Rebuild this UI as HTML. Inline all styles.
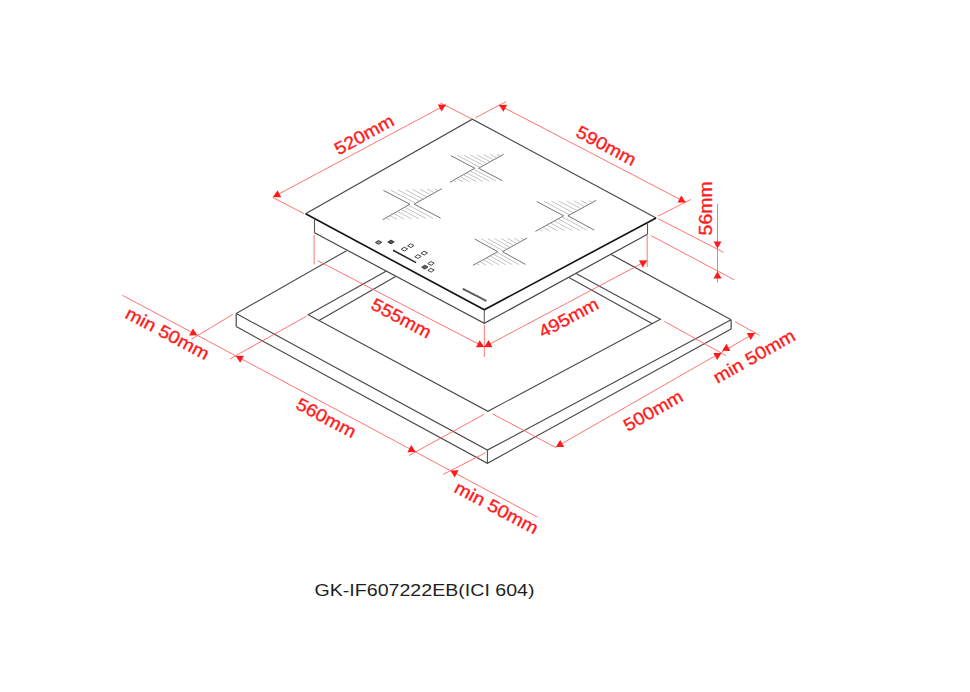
<!DOCTYPE html>
<html><head><meta charset="utf-8"><style>
html,body{margin:0;padding:0;background:#fff;width:970px;height:692px;overflow:hidden}
svg{display:block}
text{font-family:"Liberation Sans",sans-serif}
</style></head><body>
<svg width="970" height="692" viewBox="0 0 970 692">
<rect width="970" height="692" fill="#fff"/>
<path d="M236.2 313.5 L487.4 450.1 L731.1 319.8" stroke="#474747" stroke-width="1.1" fill="none" stroke-linejoin="miter"/>
<path d="M236.2 326.6 L487.4 463.3 L731.1 329" stroke="#474747" stroke-width="1.1" fill="none" stroke-linejoin="miter"/>
<line x1="236.2" y1="313.5" x2="236.2" y2="326.6" stroke="#474747" stroke-width="1.2"/>
<line x1="487.4" y1="450.1" x2="487.4" y2="463.3" stroke="#474747" stroke-width="1.0"/>
<line x1="731.1" y1="319.8" x2="731.1" y2="329" stroke="#474747" stroke-width="1.2"/>
<line x1="236.2" y1="313.5" x2="346.5" y2="250.7" stroke="#474747" stroke-width="1.1"/>
<line x1="731.1" y1="319.8" x2="611.1" y2="254.4" stroke="#474747" stroke-width="1.1"/>
<path d="M386 271.3 L308.2 314.7 L487.9 411.3 L660.4 319.2 L576.1 273.4" stroke="#474747" stroke-width="1.1" fill="none" stroke-linejoin="miter"/>
<line x1="319" y1="320.5" x2="395.6" y2="276.4" stroke="#474747" stroke-width="1.1"/>
<line x1="652.4" y1="323.8" x2="568.9" y2="277.4" stroke="#474747" stroke-width="1.1"/>
<path d="M305.6 213.8 L472.3 119.2 L656.1 217.9 L647.5 234.2 L484.3 323.4 L314.5 232.8 Z" fill="#fff"/>
<path d="M305.6 213.8 L472.3 119.2 L656.1 217.9" stroke="#474747" stroke-width="1.15" fill="none" stroke-linejoin="miter"/>
<path d="M305.6 213.8 L484.3 309.8 L656.1 217.9" stroke="#151515" stroke-width="1.65" fill="none" stroke-linejoin="miter"/>
<path d="M314.5 232.8 L484.3 323.4 L647.5 234.2" stroke="#474747" stroke-width="1.2" fill="none" stroke-linejoin="miter"/>
<line x1="314.5" y1="218.6" x2="314.5" y2="232.8" stroke="#555" stroke-width="1.1"/>
<line x1="484.3" y1="309.8" x2="484.3" y2="323.4" stroke="#555" stroke-width="1.0"/>
<line x1="647.5" y1="222.5" x2="647.5" y2="234.2" stroke="#555" stroke-width="1.1"/>
<path d="M383.4 190.4 L409.9 204.2 L382.6 219.8" stroke="#656565" stroke-width="0.9" fill="none" stroke-linejoin="miter"/>
<path d="M441.9 188.6 L414.2 204.2 L440.6 218.1" stroke="#656565" stroke-width="0.9" fill="none" stroke-linejoin="miter"/>
<line x1="390.71" y1="190.18" x2="415.85" y2="203.27" stroke="#aaa" stroke-width="0.7"/>
<line x1="398.02" y1="189.95" x2="419.58" y2="201.17" stroke="#aaa" stroke-width="0.7"/>
<line x1="405.34" y1="189.72" x2="423.3" y2="199.08" stroke="#aaa" stroke-width="0.7"/>
<line x1="412.65" y1="189.5" x2="427.02" y2="196.98" stroke="#aaa" stroke-width="0.7"/>
<line x1="419.96" y1="189.28" x2="430.74" y2="194.89" stroke="#aaa" stroke-width="0.7"/>
<line x1="427.27" y1="189.05" x2="434.46" y2="192.79" stroke="#aaa" stroke-width="0.7"/>
<line x1="434.59" y1="188.82" x2="438.18" y2="190.7" stroke="#aaa" stroke-width="0.7"/>
<line x1="389.85" y1="219.59" x2="386.27" y2="217.7" stroke="#aaa" stroke-width="0.7"/>
<line x1="397.1" y1="219.38" x2="389.94" y2="215.61" stroke="#aaa" stroke-width="0.7"/>
<line x1="404.35" y1="219.16" x2="393.61" y2="213.51" stroke="#aaa" stroke-width="0.7"/>
<line x1="411.6" y1="218.95" x2="397.28" y2="211.41" stroke="#aaa" stroke-width="0.7"/>
<line x1="418.85" y1="218.74" x2="400.95" y2="209.31" stroke="#aaa" stroke-width="0.7"/>
<line x1="426.1" y1="218.53" x2="404.62" y2="207.22" stroke="#aaa" stroke-width="0.7"/>
<line x1="433.35" y1="218.31" x2="408.29" y2="205.12" stroke="#aaa" stroke-width="0.7"/>
<path d="M450.8 155.6 L474.7 168.2 L450 182.3" stroke="#656565" stroke-width="0.9" fill="none" stroke-linejoin="miter"/>
<path d="M503.7 154.3 L478.6 168.2 L502.4 180.7" stroke="#656565" stroke-width="0.9" fill="none" stroke-linejoin="miter"/>
<line x1="457.41" y1="155.44" x2="480.07" y2="167.38" stroke="#aaa" stroke-width="0.7"/>
<line x1="464.02" y1="155.28" x2="483.45" y2="165.51" stroke="#aaa" stroke-width="0.7"/>
<line x1="470.64" y1="155.11" x2="486.82" y2="163.65" stroke="#aaa" stroke-width="0.7"/>
<line x1="477.25" y1="154.95" x2="490.2" y2="161.78" stroke="#aaa" stroke-width="0.7"/>
<line x1="483.86" y1="154.79" x2="493.57" y2="159.91" stroke="#aaa" stroke-width="0.7"/>
<line x1="490.48" y1="154.62" x2="496.95" y2="158.04" stroke="#aaa" stroke-width="0.7"/>
<line x1="497.09" y1="154.46" x2="500.32" y2="156.17" stroke="#aaa" stroke-width="0.7"/>
<line x1="456.55" y1="182.1" x2="453.32" y2="180.4" stroke="#aaa" stroke-width="0.7"/>
<line x1="463.1" y1="181.9" x2="456.64" y2="178.51" stroke="#aaa" stroke-width="0.7"/>
<line x1="469.65" y1="181.7" x2="459.96" y2="176.61" stroke="#aaa" stroke-width="0.7"/>
<line x1="476.2" y1="181.5" x2="463.28" y2="174.72" stroke="#aaa" stroke-width="0.7"/>
<line x1="482.75" y1="181.3" x2="466.61" y2="172.82" stroke="#aaa" stroke-width="0.7"/>
<line x1="489.3" y1="181.1" x2="469.93" y2="170.92" stroke="#aaa" stroke-width="0.7"/>
<line x1="495.85" y1="180.9" x2="473.25" y2="169.03" stroke="#aaa" stroke-width="0.7"/>
<path d="M536.7 201.5 L563.6 215.8 L535.4 231.4" stroke="#656565" stroke-width="0.9" fill="none" stroke-linejoin="miter"/>
<path d="M596.1 200.4 L567.9 215.8 L594.3 230.1" stroke="#656565" stroke-width="0.9" fill="none" stroke-linejoin="miter"/>
<line x1="544.12" y1="201.36" x2="569.57" y2="214.89" stroke="#aaa" stroke-width="0.7"/>
<line x1="551.55" y1="201.22" x2="573.36" y2="212.82" stroke="#aaa" stroke-width="0.7"/>
<line x1="558.98" y1="201.09" x2="577.15" y2="210.75" stroke="#aaa" stroke-width="0.7"/>
<line x1="566.4" y1="200.95" x2="580.94" y2="208.68" stroke="#aaa" stroke-width="0.7"/>
<line x1="573.83" y1="200.81" x2="584.73" y2="206.61" stroke="#aaa" stroke-width="0.7"/>
<line x1="581.25" y1="200.68" x2="588.52" y2="204.54" stroke="#aaa" stroke-width="0.7"/>
<line x1="588.68" y1="200.54" x2="592.31" y2="202.47" stroke="#aaa" stroke-width="0.7"/>
<line x1="542.76" y1="231.24" x2="539.19" y2="229.3" stroke="#aaa" stroke-width="0.7"/>
<line x1="550.12" y1="231.07" x2="542.98" y2="227.21" stroke="#aaa" stroke-width="0.7"/>
<line x1="557.49" y1="230.91" x2="546.77" y2="225.11" stroke="#aaa" stroke-width="0.7"/>
<line x1="564.85" y1="230.75" x2="550.56" y2="223.01" stroke="#aaa" stroke-width="0.7"/>
<line x1="572.21" y1="230.59" x2="554.35" y2="220.91" stroke="#aaa" stroke-width="0.7"/>
<line x1="579.57" y1="230.43" x2="558.15" y2="218.82" stroke="#aaa" stroke-width="0.7"/>
<line x1="586.94" y1="230.26" x2="561.94" y2="216.72" stroke="#aaa" stroke-width="0.7"/>
<path d="M474.7 239 L497.7 251.7 L473 265.3" stroke="#656565" stroke-width="0.9" fill="none" stroke-linejoin="miter"/>
<path d="M527.2 238 L502.5 251.7 L525.4 264.4" stroke="#656565" stroke-width="0.9" fill="none" stroke-linejoin="miter"/>
<line x1="481.26" y1="238.88" x2="503.49" y2="251.15" stroke="#aaa" stroke-width="0.7"/>
<line x1="487.82" y1="238.75" x2="506.88" y2="249.27" stroke="#aaa" stroke-width="0.7"/>
<line x1="494.39" y1="238.62" x2="510.27" y2="247.39" stroke="#aaa" stroke-width="0.7"/>
<line x1="500.95" y1="238.5" x2="513.65" y2="245.51" stroke="#aaa" stroke-width="0.7"/>
<line x1="507.51" y1="238.38" x2="517.04" y2="243.64" stroke="#aaa" stroke-width="0.7"/>
<line x1="514.08" y1="238.25" x2="520.43" y2="241.76" stroke="#aaa" stroke-width="0.7"/>
<line x1="520.64" y1="238.12" x2="523.81" y2="239.88" stroke="#aaa" stroke-width="0.7"/>
<line x1="479.55" y1="265.19" x2="476.39" y2="263.43" stroke="#aaa" stroke-width="0.7"/>
<line x1="486.1" y1="265.07" x2="479.78" y2="261.57" stroke="#aaa" stroke-width="0.7"/>
<line x1="492.65" y1="264.96" x2="483.17" y2="259.7" stroke="#aaa" stroke-width="0.7"/>
<line x1="499.2" y1="264.85" x2="486.55" y2="257.84" stroke="#aaa" stroke-width="0.7"/>
<line x1="505.75" y1="264.74" x2="489.94" y2="255.97" stroke="#aaa" stroke-width="0.7"/>
<line x1="512.3" y1="264.62" x2="493.33" y2="254.11" stroke="#aaa" stroke-width="0.7"/>
<line x1="518.85" y1="264.51" x2="496.72" y2="252.24" stroke="#aaa" stroke-width="0.7"/>
<path d="M375.4 242.6 L378.4 240.5 L381.8 242.2 L378.8 244.3 Z" stroke="#333" stroke-width="0.9" fill="#8a8a8a"/>
<path d="M387.8 242.2 L390.8 240.1 L394.2 241.8 L391.2 243.9 Z" stroke="#333" stroke-width="0.9" fill="#505050"/>
<path d="M407.6 245.9 L410.6 243.8 L414 245.5 L411 247.6 Z" stroke="#333" stroke-width="0.9" fill="none"/>
<path d="M401.2 249.3 L404.2 247.2 L407.6 248.9 L404.6 251 Z" stroke="#333" stroke-width="0.9" fill="none"/>
<path d="M421 253.3 L424 251.2 L427.4 252.9 L424.4 255 Z" stroke="#333" stroke-width="0.9" fill="none"/>
<path d="M414.8 256.8 L417.8 254.7 L421.2 256.4 L418.2 258.5 Z" stroke="#333" stroke-width="0.9" fill="none"/>
<path d="M427.8 263.6 L430.8 261.5 L434.2 263.2 L431.2 265.3 Z" stroke="#333" stroke-width="0.9" fill="none"/>
<path d="M421.6 267.3 L424.6 265.2 L428 266.9 L425 269 Z" stroke="#333" stroke-width="0.9" fill="#606060"/>
<path d="M427.8 270.4 L430.8 268.3 L434.2 270 L431.2 272.1 Z" stroke="#333" stroke-width="0.9" fill="none"/>
<line x1="393" y1="250.2" x2="416.1" y2="262.6" stroke="#2a2a2a" stroke-width="1.6"/>
<line x1="463.4" y1="289.1" x2="485.8" y2="300.6" stroke="#606060" stroke-width="2.0" stroke-linecap="round" stroke-dasharray="2 0.6"/>
<line x1="304.2" y1="213.8" x2="272.6" y2="197.3" stroke="#ff6464" stroke-width="0.9"/>
<line x1="472.3" y1="119.2" x2="440.3" y2="102.9" stroke="#ff6464" stroke-width="0.9"/>
<line x1="273" y1="197.1" x2="446" y2="104.7" stroke="#ff6464" stroke-width="0.9"/>
<path d="M446 104.7 L441.53 111.62 L437.76 104.56 Z" fill="#ff1a1a"/>
<path d="M273 197.1 L277.47 190.18 L281.24 197.24 Z" fill="#ff1a1a"/>
<text transform="translate(364 134.5) rotate(-28.5)" x="-32.5" y="6.3" textLength="65" lengthAdjust="spacingAndGlyphs" font-size="17.6" fill="#ff1a1a" stroke="#ff1a1a" stroke-width="0.35">520mm</text>
<line x1="475.4" y1="117.8" x2="506.3" y2="101.5" stroke="#ff6464" stroke-width="0.9"/>
<line x1="657.9" y1="216.1" x2="690.8" y2="199.5" stroke="#ff6464" stroke-width="0.9"/>
<line x1="498.9" y1="105" x2="685.8" y2="202.4" stroke="#ff6464" stroke-width="0.9"/>
<path d="M498.9 105 L507.13 104.78 L503.44 111.87 Z" fill="#ff1a1a"/>
<path d="M685.8 202.4 L677.57 202.62 L681.26 195.53 Z" fill="#ff1a1a"/>
<text transform="translate(606.4 145.5) rotate(28)" x="-32.5" y="6.3" textLength="65" lengthAdjust="spacingAndGlyphs" font-size="17.6" fill="#ff1a1a" stroke="#ff1a1a" stroke-width="0.35">590mm</text>
<line x1="658.3" y1="218.7" x2="723.4" y2="252.3" stroke="#ff6464" stroke-width="0.9"/>
<line x1="651.1" y1="235.7" x2="734.2" y2="279.8" stroke="#ff6464" stroke-width="0.9"/>
<line x1="717.5" y1="203.9" x2="717.5" y2="282.5" stroke="#ff6464" stroke-width="0.9"/>
<path d="M717.5 248.6 L713.5 241.4 L721.5 241.4 Z" fill="#ff1a1a"/>
<path d="M717.5 271.2 L721.5 278.4 L713.5 278.4 Z" fill="#ff1a1a"/>
<text transform="translate(706 208.4) rotate(-90)" x="-27" y="6.3" textLength="54" lengthAdjust="spacingAndGlyphs" font-size="17.6" fill="#ff1a1a" stroke="#ff1a1a" stroke-width="0.35">56mm</text>
<line x1="314.1" y1="235" x2="314.1" y2="264.5" stroke="#ff6464" stroke-width="0.9"/>
<line x1="484.3" y1="324.5" x2="484.3" y2="357" stroke="#ff6464" stroke-width="0.9"/>
<line x1="647.2" y1="235.2" x2="647.2" y2="267.1" stroke="#ff6464" stroke-width="0.9"/>
<line x1="317.5" y1="260.6" x2="484.2" y2="347" stroke="#ff6464" stroke-width="0.9"/>
<path d="M484.2 347 L475.97 347.24 L479.65 340.14 Z" fill="#ff1a1a"/>
<line x1="484.2" y1="347" x2="647.2" y2="260.5" stroke="#ff6464" stroke-width="0.9"/>
<path d="M484.2 347 L488.68 340.09 L492.43 347.16 Z" fill="#ff1a1a"/>
<path d="M647.2 260.5 L642.72 267.41 L638.97 260.34 Z" fill="#ff1a1a"/>
<text transform="translate(401.5 318) rotate(28)" x="-32.5" y="6.3" textLength="65" lengthAdjust="spacingAndGlyphs" font-size="17.6" fill="#ff1a1a" stroke="#ff1a1a" stroke-width="0.35">555mm</text>
<text transform="translate(568.5 317.5) rotate(-28)" x="-32.5" y="6.3" textLength="65" lengthAdjust="spacingAndGlyphs" font-size="17.6" fill="#ff1a1a" stroke="#ff1a1a" stroke-width="0.35">495mm</text>
<line x1="122.3" y1="295.2" x2="537.2" y2="517" stroke="#ff6464" stroke-width="0.9"/>
<line x1="232.8" y1="314.4" x2="191.6" y2="339.2" stroke="#ff6464" stroke-width="0.9"/>
<line x1="306.7" y1="316.1" x2="230.1" y2="358.8" stroke="#ff6464" stroke-width="0.9"/>
<line x1="484.1" y1="414.3" x2="409" y2="455.5" stroke="#ff6464" stroke-width="0.9"/>
<line x1="485.8" y1="452.6" x2="443.2" y2="474.4" stroke="#ff6464" stroke-width="0.9"/>
<path d="M197.4 335.3 L189.16 335.44 L192.93 328.38 Z" fill="#ff1a1a"/>
<path d="M235.7 355.9 L243.94 355.77 L240.17 362.82 Z" fill="#ff1a1a"/>
<path d="M415.7 452 L407.46 452.13 L411.24 445.08 Z" fill="#ff1a1a"/>
<path d="M450.3 470.5 L458.54 470.37 L454.76 477.42 Z" fill="#ff1a1a"/>
<text transform="translate(167.6 333.2) rotate(28)" x="-46" y="6.3" textLength="92" lengthAdjust="spacingAndGlyphs" font-size="17.6" fill="#ff1a1a" stroke="#ff1a1a" stroke-width="0.35">min 50mm</text>
<text transform="translate(326.3 417.6) rotate(28)" x="-32.5" y="6.3" textLength="65" lengthAdjust="spacingAndGlyphs" font-size="17.6" fill="#ff1a1a" stroke="#ff1a1a" stroke-width="0.35">560mm</text>
<text transform="translate(496.6 507.6) rotate(28)" x="-46" y="6.3" textLength="92" lengthAdjust="spacingAndGlyphs" font-size="17.6" fill="#ff1a1a" stroke="#ff1a1a" stroke-width="0.35">min 50mm</text>
<line x1="492.4" y1="413.8" x2="555.9" y2="447.6" stroke="#ff6464" stroke-width="0.9"/>
<line x1="664.3" y1="321.3" x2="726" y2="355.7" stroke="#ff6464" stroke-width="0.9"/>
<line x1="735.1" y1="321.7" x2="759.5" y2="335.3" stroke="#ff6464" stroke-width="0.9"/>
<line x1="555.9" y1="447.1" x2="755" y2="333" stroke="#ff6464" stroke-width="0.9"/>
<path d="M555.9 447.1 L560.16 440.05 L564.14 446.99 Z" fill="#ff1a1a"/>
<path d="M721.5 352.9 L717.22 359.94 L713.26 352.98 Z" fill="#ff1a1a"/>
<path d="M722.1 350.8 L726.53 343.86 L730.34 350.89 Z" fill="#ff1a1a"/>
<path d="M755 333 L750.74 340.05 L746.76 333.11 Z" fill="#ff1a1a"/>
<text transform="translate(653 410.4) rotate(-29.5)" x="-32.5" y="6.3" textLength="65" lengthAdjust="spacingAndGlyphs" font-size="17.6" fill="#ff1a1a" stroke="#ff1a1a" stroke-width="0.35">500mm</text>
<text transform="translate(754 356.2) rotate(-29.5)" x="-45.5" y="6.3" textLength="91" lengthAdjust="spacingAndGlyphs" font-size="17.6" fill="#ff1a1a" stroke="#ff1a1a" stroke-width="0.35">min 50mm</text>
<text x="314.5" y="596.3" textLength="220" lengthAdjust="spacingAndGlyphs" font-size="17.2" fill="#1e1e1e">GK-IF607222EB(ICI 604)</text>
</svg></body></html>
